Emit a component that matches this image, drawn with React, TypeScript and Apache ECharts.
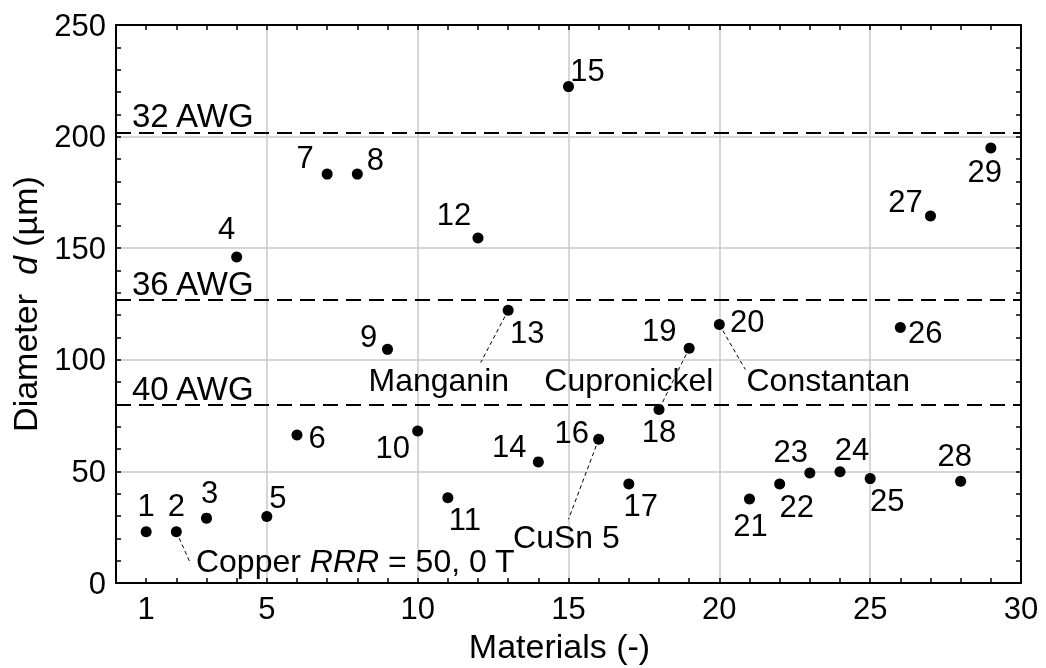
import React, { useEffect, useRef } from "react";
import * as echarts from "echarts";

// ---- data ----
const materialIds = [1, 2, 3, 4, 5, 6, 7, 8, 9, 10, 11, 12, 13, 14, 15, 16, 17, 18, 19, 20, 21, 22, 23, 24, 25, 26, 27, 28, 29];
const diameters = [23, 23, 29.1, 146.1, 29.8, 66.3, 183.2, 183.2, 104.7, 68.1, 38.2, 154.6, 122.2, 54.3, 222.4, 64.4, 44.4, 77.8, 105.2, 115.8, 37.7, 44.4, 49.3, 49.9, 46.8, 114.5, 164.4, 45.6, 194.9];
const xTickLabels = [1, 5, 10, 15, 20, 25, 30];
const awgNames = ["32 AWG", "36 AWG", "40 AWG"];
const awgDiameters = [201.9, 127.0, 79.9];

// annotation texts and where they sit (data coords) + which material they point to
const annotationTexts = ["Copper {i|RRR} = 50, 0 T", "Manganin", "Cupronickel", "Constantan", "CuSn 5"];
const annotationAnchors = [[2.65, 9.8], [10.7, 91.2], [17.0, 91.2], [20.9, 91.2], [14.93, 20.6]];
const leaderFrom = [2, 13, 19, 20, 16];
const leaderTo = [[2.45, 9.4], [12.09, 98.8], [18, 77.8], [20.86, 95.7], [15.0, 28.6]];

// ---- label placement (style) ----
const labelOffsets = [
  [0, -26], [0, -26], [3, -26], [-10, -28], [11, -19], [20, 2], [-22, -17], [18, -15], [-19, -13], [-25, 16],
  [17, 22], [-24, -23], [19, 22], [-29, -15], [19, -16], [-27, -7], [12, 22], [0, 22], [-30, -18], [28, -3],
  [1, 27], [17, 23], [-19, -22], [12, -22], [17, 22], [25, 5], [-25, -15], [-6, -26], [-6, 23],
];
const annotationAlign = ["left", "center", "center", "left", "center"];

const FONT = "'Liberation Sans', Arial, sans-serif";
const FS = 31;
const FS_ANN = 32;
const FS_AWG = 33;
const FS_NAME = 34;

export default function App() {
  const ref = useRef<HTMLDivElement>(null);
  useEffect(() => {
    if (!ref.current) return;
    const chart = echarts.init(ref.current, undefined, { renderer: "svg" });
    const axisCommon = {
      axisLine: { show: true, onZero: false, lineStyle: { color: "#000", width: 2 } },
      axisTick: { show: true, inside: true, length: 5, lineStyle: { color: "#000", width: 1.5 } },
      minorTick: { show: true, splitNumber: 5, length: 5, lineStyle: { color: "#000", width: 1.5 } },
    };
    const pointData = materialIds.map((id, i) => ({
      value: [id, diameters[i]],
      label: { offset: labelOffsets[i] },
    }));
    const annData = annotationTexts.map((t, i) => ({
      value: annotationAnchors[i],
      label: { formatter: t, align: annotationAlign[i] },
    }));
    const leaderData = leaderFrom.map((m, i) => [
      { coord: [m, diameters[materialIds.indexOf(m)]] },
      { coord: leaderTo[i] },
    ]);
    chart.setOption({
      animation: false,
      textStyle: { fontFamily: FONT },
      grid: { left: 115, right: 25, top: 25, bottom: 84, containLabel: false },
      xAxis: [
        {
          type: "value", min: 0, max: 30, interval: 5, position: "bottom",
          ...axisCommon,
          axisLabel: { customValues: xTickLabels, color: "#000", fontSize: FS, fontFamily: FONT, margin: 10 },
          splitLine: { show: true, lineStyle: { color: "#c8c8c8", width: 1.5 } },
          name: "Materials (-)", nameLocation: "middle", nameGap: 43,
          nameTextStyle: { color: "#000", fontSize: FS_NAME, fontFamily: FONT, padding: [0, 18, 0, 0] },
        },
        {
          type: "value", min: 0, max: 30, interval: 5, position: "top",
          ...axisCommon,
          axisLabel: { show: false },
          splitLine: { show: false },
        },
      ],
      yAxis: [
        {
          type: "value", min: 0, max: 250, interval: 50, position: "left",
          ...axisCommon,
          axisLabel: { color: "#000", fontSize: FS, fontFamily: FONT, margin: 10 },
          splitLine: { show: true, lineStyle: { color: "#c8c8c8", width: 1.5 } },
          name: "Diameter  {i|d} (µm)", nameLocation: "middle", nameGap: 74,
          nameTextStyle: {
            color: "#000", fontSize: FS_NAME, fontFamily: FONT,
            rich: { i: { fontStyle: "italic", fontSize: FS_NAME, fontFamily: FONT, color: "#000" } },
          },
        },
        {
          type: "value", min: 0, max: 250, interval: 50, position: "right",
          ...axisCommon,
          axisLabel: { show: false },
          splitLine: { show: false },
        },
      ],
      series: [
        {
          type: "scatter",
          data: [],
          markLine: {
            silent: true,
            symbol: ["none", "none"],
            lineStyle: { color: "#000", width: 2, type: [15, 8] },
            label: {
              show: true, position: "insideStartTop", formatter: "{b}",
              color: "#000", fontSize: FS_AWG, fontFamily: FONT, distance: [16, 0],
            },
            data: awgNames.map((n, i) => ({ name: n, yAxis: awgDiameters[i] })),
          },
        },
        {
          type: "scatter",
          symbolSize: 0.1,
          itemStyle: { color: "transparent", opacity: 1 },
          data: annData,
          label: {
            show: true, position: "inside", color: "#000", fontSize: FS_ANN, fontFamily: FONT,
            verticalAlign: "middle",
            rich: { i: { fontStyle: "italic", fontSize: FS_ANN, fontFamily: FONT, color: "#000" } },
          },
          markLine: {
            silent: true,
            symbol: ["none", "none"],
            lineStyle: { color: "#000", width: 1, type: [4, 3], opacity: 1 },
            label: { show: false },
            data: leaderData,
          },
          z: 1,
        },
        {
          type: "scatter",
          symbol: "circle",
          symbolSize: 11,
          itemStyle: { color: "#000", opacity: 1 },
          data: pointData,
          label: {
            show: true, position: "inside", color: "#000", fontSize: FS, fontFamily: FONT,
            align: "center", verticalAlign: "middle",
            formatter: (p: any) => String(p.value[0]),
          },
          z: 3,
        },
      ],
    });
    return () => chart.dispose();
  }, []);
  return <div ref={ref} style={{ position: "fixed", left: 0, top: 0, width: 1046, height: 668 }} />;
}
